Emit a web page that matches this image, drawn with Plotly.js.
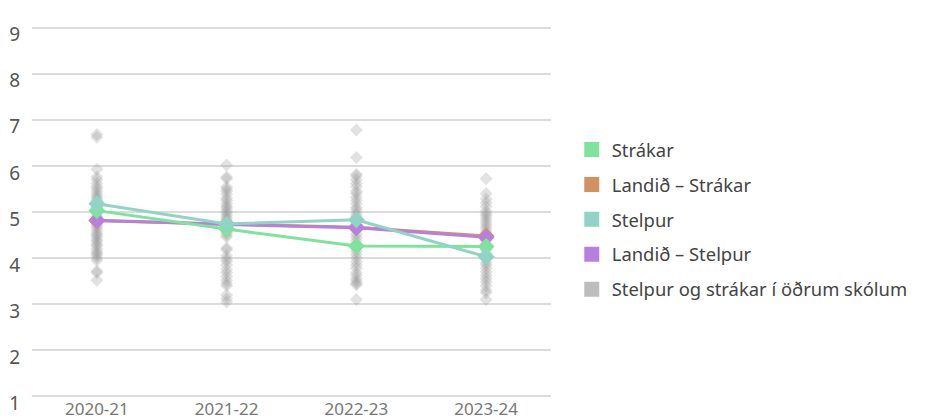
<!DOCTYPE html>
<html>
<head>
<meta charset="utf-8">
<script src="https://cdn.plot.ly/plotly-3.0.1.min.js"></script>
<style>
html,body{margin:0;padding:0;background:#fff}
#chart{width:929px;height:420px}
</style>
</head>
<body>
<div id="chart"></div>
<script>
const years = ["2020-21", "2021-22", "2022-23", "2023-24"];

const strakar = [5.03, 4.63, 4.26, 4.25];
const landidStrakar = [4.81, 4.74, 4.67, 4.48];
const stelpur = [5.18, 4.74, 4.83, 4.03];
const landidStelpur = [4.82, 4.73, 4.66, 4.45];

const others2021 = [6.68, 6.62, 5.93, 5.76, 5.7, 5.62, 5.55, 5.5, 5.44, 5.38, 5.33, 5.29, 5.24, 5.2, 5.14, 5.1, 5.06, 5.0, 4.96, 4.9, 4.86, 4.81, 4.75, 4.7, 4.66, 4.6, 4.54, 4.5, 4.46, 4.4, 4.36, 4.3, 4.26, 4.2, 4.14, 4.1, 4.06, 4.0, 3.95, 3.72, 3.68, 3.52];
const others2122 = [6.02, 5.76, 5.72, 5.55, 5.5, 5.45, 5.38, 5.3, 5.25, 5.18, 5.12, 5.08, 5.02, 4.98, 4.93, 4.88, 4.84, 4.79, 4.74, 4.7, 4.65, 4.6, 4.55, 4.5, 4.46, 4.22, 4.18, 4.05, 3.98, 3.93, 3.85, 3.75, 3.68, 3.6, 3.52, 3.45, 3.4, 3.2, 3.12, 3.05];
const others2223 = [6.78, 6.18, 5.82, 5.78, 5.7, 5.62, 5.55, 5.45, 5.4, 5.32, 5.25, 5.18, 5.1, 5.05, 4.98, 4.92, 4.86, 4.8, 4.73, 4.66, 4.6, 4.52, 4.45, 4.38, 4.3, 4.22, 4.15, 4.08, 4.0, 3.92, 3.85, 3.78, 3.68, 3.62, 3.55, 3.5, 3.45, 3.42, 3.1];
const others2324 = [5.72, 5.4, 5.28, 5.2, 5.12, 5.02, 4.97, 4.92, 4.86, 4.8, 4.74, 4.68, 4.62, 4.56, 4.5, 4.44, 4.38, 4.3, 4.24, 4.18, 4.1, 4.04, 3.98, 3.9, 3.85, 3.78, 3.7, 3.62, 3.55, 3.48, 3.4, 3.3, 3.25, 3.1];
const othersByYear = [others2021, others2122, others2223, others2324];

const names = ["Strákar", "Landið – Strákar", "Stelpur", "Landið – Stelpur", "Stelpur og strákar í öðrum skólum"];
const colors = ["#7fe39d", "#d4915f", "#8fd4c4", "#b97fdc", "#bdbdbd"];

const FONT = "'Noto Sans', 'Open Sans', sans-serif";

const ox = [], oy = [];
othersByYear.forEach((arr, i) => arr.forEach(v => { ox.push(years[i]); oy.push(v); }));

const traces = [];
traces.push({
  x: ox, y: oy, type: "scatter", mode: "markers", showlegend: false, hoverinfo: "y",
  marker: {symbol: "diamond", size: 10, color: "rgba(150,150,150,0.28)"}
});
const seriesOrder = [[landidStrakar, 1], [landidStelpur, 3], [strakar, 0], [stelpur, 2]];
seriesOrder.forEach(([vals, idx]) => {
  traces.push({
    x: years, y: vals, type: "scatter", mode: "lines+markers", name: names[idx], showlegend: false,
    line: {color: colors[idx], width: 3},
    marker: {symbol: "diamond", size: 13, color: colors[idx]}
  });
});
names.forEach((n, i) => {
  traces.push({
    x: [null], y: [null], type: "scatter", mode: "markers", name: n, legendgroup: "g" + i,
    marker: {symbol: "square", size: 15, color: colors[i]}
  });
});

const layout = {
  width: 929, height: 420,
  margin: {l: 32, r: 378, t: 23, b: 19},
  paper_bgcolor: "#fff", plot_bgcolor: "#fff",
  font: {family: FONT, size: 16, color: "#555"},
  showlegend: true,
  legend: {
    x: 1.04, xanchor: "left", y: 0.48, yanchor: "middle",
    traceorder: "grouped", tracegroupgap: 8,
    font: {family: FONT, size: 18.4, color: "#444"},
    itemwidth: 30
  },
  xaxis: {
    type: "category", range: [-0.5, 3.5], showgrid: false, zeroline: false, showline: false,
    ticks: "", tickfont: {family: FONT, size: 17, color: "#777"}, ticklabelstandoff: -4
  },
  yaxis: {
    range: [0.9, 9.1], dtick: 1, tick0: 1, showgrid: true, gridcolor: "#dcdcdc", gridwidth: 2,
    zeroline: false, showline: false, ticks: "",
    tickfont: {family: FONT, size: 19, color: "#555"}, ticklabelstandoff: 11, ticklabelshift: 7
  }
};

Plotly.newPlot("chart", traces, layout, {displayModeBar: false, staticPlot: true});
</script>
</body>
</html>
